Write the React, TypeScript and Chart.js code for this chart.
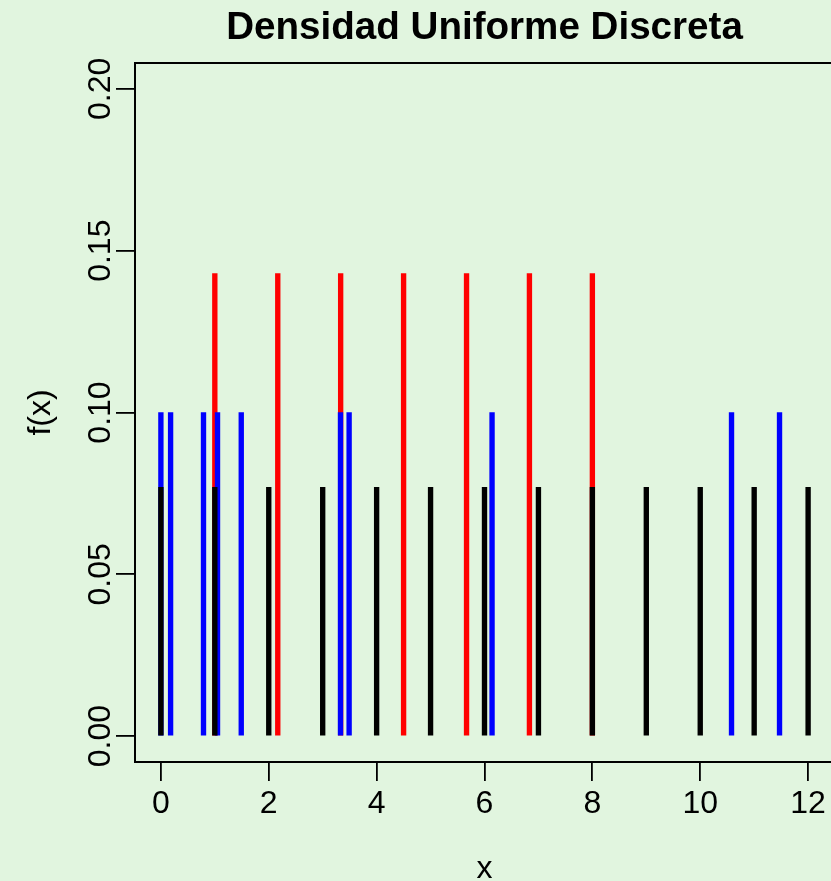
import React, { useEffect, useRef } from 'react';
import { Chart, registerables } from 'chart.js';

Chart.register(...registerables);

const TITLE = 'Densidad Uniforme Discreta';
const X_LABEL = 'x';
const Y_LABEL = 'f(x)';

// Uniform discrete on 0..12 (black)
const blackX = [0, 1, 2, 3, 4, 5, 6, 7, 8, 9, 10, 11, 12];
const blackY = [0.0769, 0.0769, 0.0769, 0.0769, 0.0769, 0.0769, 0.0769, 0.0769, 0.0769, 0.0769, 0.0769, 0.0769, 0.0769];

// 7 equally spaced points (red)
const redX = [1, 2.167, 3.333, 4.5, 5.667, 6.833, 8];
const redY = [0.1429, 0.1429, 0.1429, 0.1429, 0.1429, 0.1429, 0.1429];

// 10 irregular points (blue)
const blueX = [0, 0.18, 0.79, 1.05, 1.49, 3.33, 3.49, 6.14, 10.58, 11.47];
const blueY = [0.1, 0.1, 0.1, 0.1, 0.1, 0.1, 0.1, 0.1, 0.1, 0.1];

const xTicks = [0, 2, 4, 6, 8, 10, 12];
const xTickLabels = ['0', '2', '4', '6', '8', '10', '12'];
const yTicks = [0, 0.05, 0.1, 0.15, 0.2];
const yTickLabels = ['0.00', '0.05', '0.10', '0.15', '0.20'];

const X_MIN = -0.48;
const X_MAX = 12.48;
const Y_MIN = -0.008;
const Y_MAX = 0.208;

const BG = '#E1F5DF';
const FONT = '"Liberation Sans", Arial, Helvetica, sans-serif';

const decorPlugin = {
  id: 'decor',
  afterDraw(chart: any) {
    const { ctx, chartArea: a, scales } = chart;
    ctx.save();
    ctx.strokeStyle = '#000';
    ctx.lineWidth = 2;
    ctx.strokeRect(a.left, a.top, a.right - a.left, a.bottom - a.top);

    ctx.fillStyle = '#000';
    ctx.textAlign = 'center';
    ctx.textBaseline = 'alphabetic';
    ctx.font = `bold 38.6px ${FONT}`;
    ctx.fillText(TITLE, (a.left + a.right) / 2, 39);

    ctx.font = `32px ${FONT}`;
    xTicks.forEach((v, i) => {
      ctx.fillText(xTickLabels[i], scales.x.getPixelForValue(v), 813);
    });
    ctx.fillText(X_LABEL, (a.left + a.right) / 2, 878);

    yTicks.forEach((v, i) => {
      ctx.save();
      ctx.translate(110, scales.y.getPixelForValue(v));
      ctx.rotate(-Math.PI / 2);
      ctx.fillText(yTickLabels[i], 0, 0);
      ctx.restore();
    });

    ctx.save();
    ctx.translate(50, (a.top + a.bottom) / 2);
    ctx.rotate(-Math.PI / 2);
    ctx.fillText(Y_LABEL, 0, 0);
    ctx.restore();

    ctx.restore();
  },
};

export default function App() {
  const ref = useRef<HTMLCanvasElement>(null);

  useEffect(() => {
    const toPts = (xs: number[], ys: number[]) => xs.map((x, i) => ({ x, y: ys[i] }));
    const barCommon = {
      barThickness: 4.7,
      grouped: false,
      borderWidth: 0,
    };
    const chart = new Chart(ref.current as HTMLCanvasElement, {
      type: 'bar',
      data: {
        datasets: [
          { ...barCommon, label: 'black', data: toPts(blackX, blackY), backgroundColor: '#000000' },
          { ...barCommon, label: 'blue', data: toPts(blueX, blueY), backgroundColor: '#0000FF' },
          { ...barCommon, label: 'red', data: toPts(redX, redY), backgroundColor: '#FF0000' },
        ] as any,
      },
      options: {
        responsive: false,
        devicePixelRatio: 1,
        animation: false,
        layout: { padding: { top: 63, right: 26, left: 0, bottom: 0 } },
        plugins: { legend: { display: false }, tooltip: { enabled: false }, title: { display: false } },
        scales: {
          x: {
            type: 'linear',
            min: X_MIN,
            max: X_MAX,
            offset: false,
            afterBuildTicks: (s: any) => {
              s.ticks = xTicks.map((v) => ({ value: v }));
            },
            afterFit: (s: any) => {
              s.height = 119;
            },
            ticks: { display: false },
            grid: { offset: false, drawOnChartArea: false, drawTicks: true, tickLength: 19, color: '#000', lineWidth: 1.8 },
            border: { display: false },
          },
          y: {
            type: 'linear',
            min: Y_MIN,
            max: Y_MAX,
            afterBuildTicks: (s: any) => {
              s.ticks = yTicks.map((v) => ({ value: v }));
            },
            afterFit: (s: any) => {
              s.width = 135;
            },
            ticks: { display: false },
            grid: { offset: false, drawOnChartArea: false, drawTicks: true, tickLength: 19, color: '#000', lineWidth: 1.8 },
            border: { display: false },
          },
        },
      } as any,
      plugins: [decorPlugin],
    });
    return () => chart.destroy();
  }, []);

  return (
    <div
      style={{
        position: 'fixed',
        left: 0,
        top: 0,
        width: 831,
        height: 881,
        overflow: 'hidden',
        background: BG,
      }}
    >
      <canvas ref={ref} width={860} height={881} style={{ display: 'block', width: 860, height: 881 }} />
    </div>
  );
}
